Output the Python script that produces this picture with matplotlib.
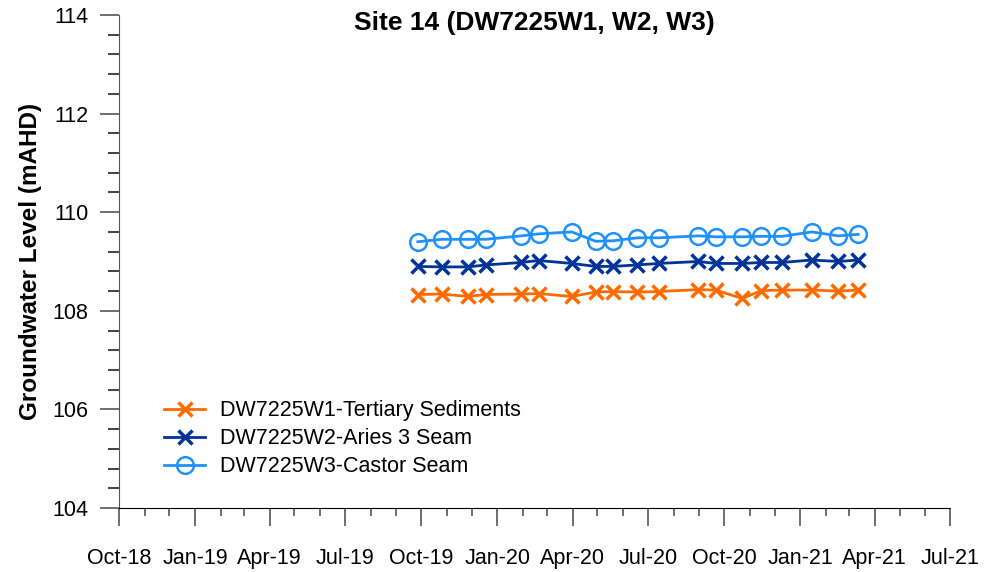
import matplotlib

matplotlib.use("Agg")

import matplotlib.pyplot as plt
import matplotlib.dates as mdates
import pandas as pd
from matplotlib.ticker import MultipleLocator

plt.rcParams["font.family"] = ["Liberation Sans", "DejaVu Sans"]

# Sampling dates (same round for all three bores)
dates = pd.to_datetime([
    "2019-09-27", "2019-10-26", "2019-11-27", "2019-12-18", "2020-01-30",
    "2020-02-20", "2020-03-31", "2020-04-29", "2020-05-20", "2020-06-18",
    "2020-07-14", "2020-08-31", "2020-09-21", "2020-10-23", "2020-11-15",
    "2020-12-10", "2021-01-15", "2021-02-16", "2021-03-12",
])

w1_tertiary = [108.33, 108.34, 108.29, 108.33, 108.34, 108.35, 108.29, 108.38, 108.39, 108.38,
               108.39, 108.43, 108.42, 108.25, 108.41, 108.42, 108.42, 108.40, 108.42]
w2_aries = [108.90, 108.89, 108.89, 108.93, 108.98, 109.02, 108.96, 108.90, 108.90, 108.93,
            108.96, 109.00, 108.96, 108.96, 108.98, 108.98, 109.03, 109.00, 109.03]
w3_castor = [109.40, 109.45, 109.45, 109.45, 109.52, 109.56, 109.60, 109.41, 109.42, 109.48,
             109.48, 109.52, 109.50, 109.50, 109.51, 109.51, 109.60, 109.52, 109.55]

series_labels = [
    "DW7225W1-Tertiary Sediments",
    "DW7225W2-Aries 3 Seam",
    "DW7225W3-Castor Seam",
]

fig = plt.figure(figsize=(9.89, 5.72), dpi=100)
ax = fig.add_axes([0.1203, 0.1119, 0.8403, 0.8619])

ax.plot(dates, w1_tertiary, color="#ff6a00", lw=2, marker="x", ms=10.5, mew=2.5,
        label=series_labels[0])
ax.plot(dates, w2_aries, color="#003399", lw=2, marker="x", ms=10.5, mew=2.5,
        label=series_labels[1])
ax.plot(dates, w3_castor, color="#1e90ff", lw=2, marker="o", ms=12, mew=1.8,
        mfc="none", label=series_labels[2])

ax.set_xlim(pd.Timestamp("2018-10-01"), pd.Timestamp("2021-07-01"))
ax.set_ylim(104, 114)

ax.xaxis.set_major_locator(mdates.MonthLocator(bymonth=[1, 4, 7, 10]))
ax.xaxis.set_minor_locator(mdates.MonthLocator())
ax.xaxis.set_major_formatter(mdates.DateFormatter("%b-%y"))
ax.yaxis.set_major_locator(MultipleLocator(2))
ax.yaxis.set_minor_locator(MultipleLocator(0.4))

for s in ("top", "right"):
    ax.spines[s].set_visible(False)
ax.spines["left"].set_color("#555555")
ax.spines["bottom"].set_color("#000000")

ax.tick_params(axis="x", which="major", length=13, width=1.2, color="#555555",
               pad=16, labelsize=15.5)
ax.tick_params(axis="x", which="minor", length=6, width=1.2, color="#555555")
ax.tick_params(axis="y", which="major", length=14, width=1.2, color="#555555",
               pad=8, labelsize=15.5)
ax.tick_params(axis="y", which="minor", length=8, width=1.2, color="#222222")

ax.set_ylabel("Groundwater Level (mAHD)", fontsize=17.5, fontweight="bold")
ax.yaxis.set_label_coords(-0.093, 0.5)
ax.text(0.5, 0.984, "Site 14 (DW7225W1, W2, W3)", transform=ax.transAxes,
        ha="center", va="center", fontsize=19, fontweight="bold")

ax.legend(loc="lower left", bbox_to_anchor=(0.031, 0.023), frameon=False,
          fontsize=15.5, handlelength=1.9, handletextpad=0.7, labelspacing=0.33)

fig.savefig("out.png", dpi=100)
